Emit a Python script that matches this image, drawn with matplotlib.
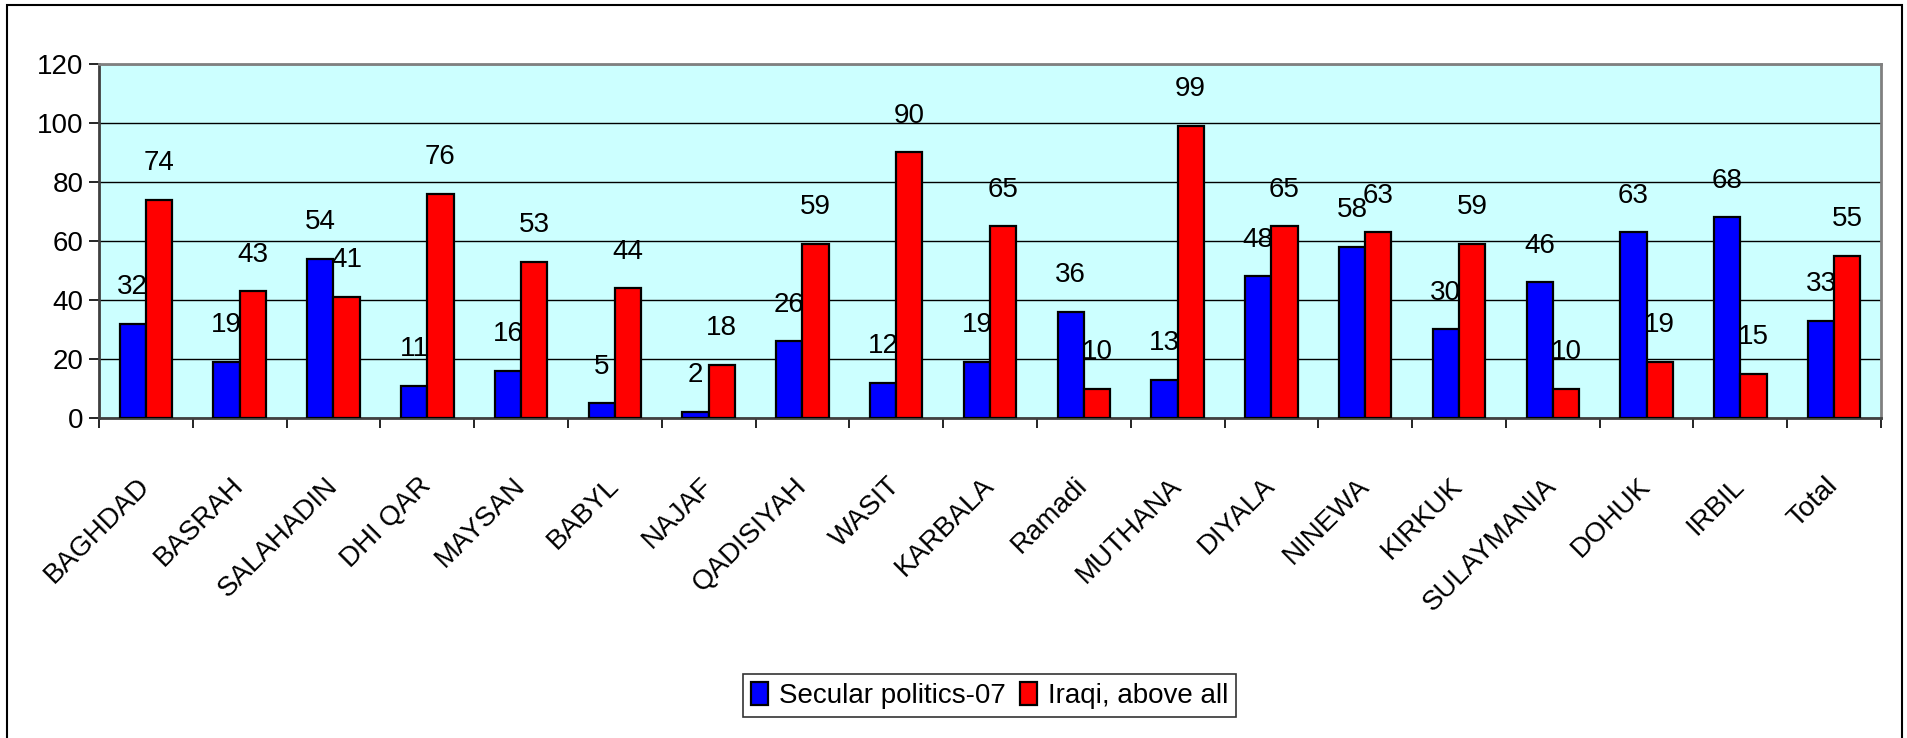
import matplotlib.pyplot as plt
from matplotlib.patches import Rectangle
import numpy as np

plt.rcParams['font.family'] = ['Liberation Sans', 'DejaVu Sans']

PROVINCES = ["BAGHDAD", "BASRAH", "SALAHADIN", "DHI QAR", "MAYSAN", "BABYL", "NAJAF",
             "QADISIYAH", "WASIT", "KARBALA", "Ramadi", "MUTHANA", "DIYALA", "NINEWA",
             "KIRKUK", "SULAYMANIA", "DOHUK", "IRBIL", "Total"]
SECULAR = [32, 19, 54, 11, 16, 5, 2, 26, 12, 19, 36, 13, 48, 58, 30, 46, 63, 68, 33]
IRAQI = [74, 43, 41, 76, 53, 44, 18, 59, 90, 65, 10, 99, 65, 63, 59, 10, 19, 15, 55]
SERIES_NAMES = ["Secular politics-07", "Iraqi, above all"]
Y_TICKS = [0, 20, 40, 60, 80, 100, 120]

FS = 20
BAR_W = 0.28

fig = plt.figure(figsize=(19.07, 7.38), dpi=100)
ax = fig.add_axes([0.0519, 0.4336, 0.9345, 0.4797])

x = np.arange(len(PROVINCES))
b1 = ax.bar(x - BAR_W / 2, SECULAR, BAR_W, color='#0000FF', edgecolor='black', linewidth=1.6,
            label=SERIES_NAMES[0], zorder=3)
b2 = ax.bar(x + BAR_W / 2, IRAQI, BAR_W, color='#FF0000', edgecolor='black', linewidth=1.6,
            label=SERIES_NAMES[1], zorder=3)
ax.bar_label(b1, fmt='%d', padding=17, fontsize=FS, zorder=4)
ax.bar_label(b2, fmt='%d', padding=17, fontsize=FS, zorder=4)

ax.set_facecolor('#CCFFFF')
ax.set_xlim(-0.5, len(PROVINCES) - 0.5)
ax.set_ylim(0, 120)
ax.set_yticks(Y_TICKS)
ax.yaxis.grid(True, color='black', linewidth=1.0, zorder=1)
ax.set_axisbelow(True)
ax.tick_params(axis='y', labelsize=FS, length=7, width=1.2, direction='out', pad=4)

# category labels at centres, tick marks at the boundaries
ax.set_xticks(x)
ax.set_xticklabels(PROVINCES, rotation=45, ha='right', va='center', rotation_mode='anchor',
                   fontsize=FS)
ax.tick_params(axis='x', length=0, pad=46)
ax.set_xticks(np.arange(-0.5, len(PROVINCES)), minor=True)
ax.tick_params(axis='x', which='minor', length=7, width=1.2, direction='out')

for side in ['top', 'right']:
    ax.spines[side].set_color('#808080')
    ax.spines[side].set_linewidth(2)
ax.spines['left'].set_color('#404040')
ax.spines['left'].set_linewidth(2)
ax.spines['bottom'].set_color('#404040')
ax.spines['bottom'].set_linewidth(2)

leg = fig.legend(loc='center', bbox_to_anchor=(0.519, 0.0575), ncol=2, fontsize=FS,
                 frameon=True, fancybox=False, edgecolor='black', handlelength=0.6,
                 handleheight=0.9, handletextpad=0.4, columnspacing=0.5, borderpad=0.3,
                 borderaxespad=0)
leg.get_frame().set_linewidth(1.2)

# outer chart border
fig.patches.append(Rectangle((0.0037, -0.05), 0.9937, 1.043, transform=fig.transFigure,
                             fill=False, edgecolor='black', linewidth=1.5))

fig.savefig('out.png', dpi=100)
